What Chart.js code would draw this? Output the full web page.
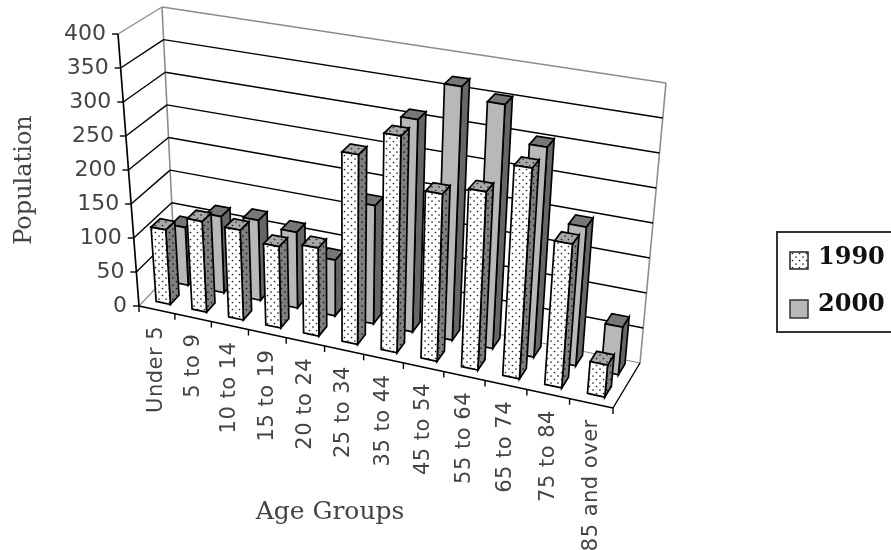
<!DOCTYPE html>
<html>
<head>
<meta charset="utf-8">
<style>
  html, body { margin: 0; padding: 0; background: #fff; }
  #wrap { width: 891px; height: 550px; overflow: hidden; }
  /* the source is a soft scan */
  #chart { filter: blur(0.45px); }
</style>
<script src="https://cdn.jsdelivr.net/npm/chart.js@4"></script>
</head>
<body>
<div id="wrap"><canvas id="chart"></canvas></div>
<script>
const categories = ["Under 5", "5 to 9", "10 to 14", "15 to 19", "20 to 24", "25 to 34",
  "35 to 44", "45 to 54", "55 to 64", "65 to 74", "75 to 84", "85 and over"];
const values1990 = [110, 133, 131, 118, 127, 272, 309, 237, 251, 295, 200, 44];
const values2000 = [87, 114, 119, 112, 82, 173, 309, 367, 351, 300, 197, 67];
const valueTicks = [0, 50, 100, 150, 200, 250, 300, 350, 400];

// corners of the 3D box in page pixels
const box = {
  frontLeftBottom: [139, 306], frontRightBottom: [613, 408],
  backLeftBottom: [175, 268], backRightBottom: [640, 363],
  frontLeftTop: [118, 34], frontRightTop: [640, 116],
  backLeftTop: [162, 7], backRightTop: [666, 83]
};
const SPREAD = 1.11; // categories get wider towards the right
const ROW_1990 = [0.18, 0.42];
const ROW_2000 = [0.68, 0.92];

function mix(a, b, t) {
  return [a[0] + (b[0] - a[0]) * t, a[1] + (b[1] - a[1]) * t];
}

// u along categories, v into the page, w up
function project(u, v, w) {
  const uu = u / (SPREAD - (SPREAD - 1) * u);
  const bottom = mix(mix(box.frontLeftBottom, box.frontRightBottom, uu), mix(box.backLeftBottom, box.backRightBottom, uu), v);
  const top = mix(mix(box.frontLeftTop, box.frontRightTop, uu), mix(box.backLeftTop, box.backRightTop, uu), v);
  return mix(bottom, top, w);
}

function poly(ctx, pts, fill, stroke, lw) {
  ctx.beginPath();
  pts.forEach((p, i) => (i ? ctx.lineTo(p[0], p[1]) : ctx.moveTo(p[0], p[1])));
  ctx.closePath();
  if (fill) { ctx.fillStyle = fill; ctx.fill(); }
  if (stroke) { ctx.strokeStyle = stroke; ctx.lineWidth = lw; ctx.stroke(); }
}

function line(ctx, a, b, color, lw) {
  ctx.beginPath();
  ctx.moveTo(a[0], a[1]);
  ctx.lineTo(b[0], b[1]);
  ctx.strokeStyle = color;
  ctx.lineWidth = lw;
  ctx.stroke();
}

// white/grey tile with a staggered dot grid
function dots(ctx, bg, dot) {
  const tile = document.createElement("canvas");
  tile.width = 7;
  tile.height = 7;
  const t = tile.getContext("2d");
  t.fillStyle = bg;
  t.fillRect(0, 0, 7, 7);
  t.fillStyle = dot;
  [[1.5, 1.5], [5, 5]].forEach(([x, y]) => {
    t.beginPath();
    t.arc(x, y, 0.85, 0, Math.PI * 2);
    t.fill();
  });
  return ctx.createPattern(tile, "repeat");
}

function drawBar(ctx, u0, u1, row, w, faces) {
  const [v0, v1] = row;
  const a = project(u0, v0, 0), b = project(u1, v0, 0), c = project(u1, v1, 0);
  const d = project(u0, v0, w), e = project(u1, v0, w), f = project(u1, v1, w), g = project(u0, v1, w);
  poly(ctx, [b, c, f, e], faces.side, "#000", 1.7);
  poly(ctx, [d, e, f, g], faces.top, "#000", 1.7);
  poly(ctx, [a, b, e, d], faces.front, "#000", 1.7);
}

const box3d = {
  id: "box3d",
  beforeDatasetsDraw(chart) {
    const ctx = chart.ctx;
    const area = chart.chartArea;
    const xs = chart.scales.x, ys = chart.scales.y;
    const toU = (px) => (px - area.left) / area.width;
    const toW = (px) => (area.bottom - px) / area.height;
    const step = xs.getPixelForValue(1) - xs.getPixelForValue(0);
    ctx.save();
    ctx.lineCap = "butt";

    // floor and wall outlines
    const grey = "#8c8c8c";
    line(ctx, project(0, 0, 0), project(0, 1, 0), grey, 1.2);
    line(ctx, project(0, 1, 0), project(1, 1, 0), grey, 1.2);
    line(ctx, project(0, 1, 0), project(0, 1, 1), grey, 1.6);
    line(ctx, project(1, 1, 0), project(1, 1, 1), grey, 1.6);

    // gridlines come off the value scale
    ys.ticks.forEach((tick) => {
      const w = toW(ys.getPixelForValue(tick.value));
      if (w <= 0) return;
      const col = w >= 1 ? grey : "#000";
      line(ctx, project(0, 0, w), project(0, 1, w), col, 1.4);
      line(ctx, project(0, 1, w), project(1, 1, w), col, 1.4);
    });

    // bars, back row first, left to right
    const faces1990 = {
      front: dots(ctx, "#fff", "#222"),
      side: dots(ctx, "#808080", "#111"),
      top: dots(ctx, "#a8a8a8", "#222")
    };
    const faces2000 = { front: "#b8b8b8", side: "#666", top: "#777" };
    const meta1990 = chart.getDatasetMeta(0).data;
    const meta2000 = chart.getDatasetMeta(1).data;
    categories.forEach((_, i) => {
      [[meta2000[i], ROW_2000, faces2000], [meta1990[i], ROW_1990, faces1990]].forEach(([bar, row, faces]) => {
        const p = bar.getProps(["x", "y", "width"], true);
        drawBar(ctx, toU(p.x - p.width / 2), toU(p.x + p.width / 2), row, toW(p.y), faces);
      });
    });

    // axis lines and ticks
    line(ctx, project(0, 0, 0), project(0, 0, 1), "#000", 1.7);
    line(ctx, project(0, 0, 0), project(1, 0, 0), "#000", 1.7);
    line(ctx, project(1, 0, 0), project(1, 1, 0), "#000", 1.4);

    ctx.fillStyle = "#444";
    ctx.font = "22px 'DejaVu Sans'";
    ctx.textAlign = "right";
    ctx.textBaseline = "middle";
    ys.ticks.forEach((tick) => {
      const p = project(0, 0, toW(ys.getPixelForValue(tick.value)));
      line(ctx, [p[0] - 6, p[1]], p, "#000", 1.4);
      ctx.fillText(tick.label, p[0] - 12, p[1]);
    });

    ctx.letterSpacing = "0.5px";
    categories.forEach((label, i) => {
      const c = xs.getPixelForValue(i);
      const p0 = project(toU(c - step / 2), 0, 0);
      line(ctx, p0, [p0[0], p0[1] + 6], "#000", 1.4);
      if (i === categories.length - 1) {
        const p1 = project(1, 0, 0);
        line(ctx, p1, [p1[0], p1[1] + 6], "#000", 1.4);
      }
      const m = project(toU(c), 0, 0);
      ctx.save();
      ctx.translate(m[0], m[1] + 16);
      ctx.rotate(-Math.PI / 2);
      ctx.font = "21px 'DejaVu Sans'";
      ctx.textAlign = "right";
      ctx.fillText(label, 0, 0);
      ctx.restore();
    });

    // axis titles
    ctx.letterSpacing = "0px";
    ctx.font = "25px 'DejaVu Serif'";
    ctx.textAlign = "center";
    ctx.fillText("Age Groups", 330, 512);
    ctx.save();
    ctx.translate(25, 180);
    ctx.rotate(-Math.PI / 2);
    ctx.font = "24px 'DejaVu Serif'";
    ctx.fillText("Population", 0, 0);
    ctx.restore();

    // legend, runs off the right edge like the source
    ctx.strokeStyle = "#333";
    ctx.lineWidth = 2;
    ctx.strokeRect(777, 232, 130, 100);
    poly(ctx, [[790, 252], [808, 252], [808, 269], [790, 269]], faces1990.front, "#222", 1.5);
    poly(ctx, [[790, 300], [808, 300], [808, 318], [790, 318]], faces2000.front, "#333", 1.5);
    ctx.fillStyle = "#111";
    ctx.font = "bold 24px 'DejaVu Serif'";
    ctx.textAlign = "left";
    ctx.fillText("1990", 818, 258);
    ctx.fillText("2000", 818, 305);

    ctx.restore();
    return false; // bars are already painted above
  }
};

new Chart(document.getElementById("chart").getContext("2d"), {
  type: "bar",
  data: {
    labels: categories,
    datasets: [
      { label: "1990", data: values1990, grouped: false, barPercentage: 0.4, categoryPercentage: 1 },
      { label: "2000", data: values2000, grouped: false, barPercentage: 0.4, categoryPercentage: 1 }
    ]
  },
  options: {
    responsive: true,
    maintainAspectRatio: false,
    animation: false,
    layout: { padding: 0 },
    plugins: { legend: { display: false }, tooltip: { enabled: false } },
    scales: {
      x: { display: false },
      y: {
        display: false,
        min: 0,
        max: 400,
        afterBuildTicks(scale) {
          scale.ticks = valueTicks.map((value) => ({ value, label: String(value) }));
        }
      }
    }
  },
  plugins: [box3d]
});
</script>
</body>
</html>
